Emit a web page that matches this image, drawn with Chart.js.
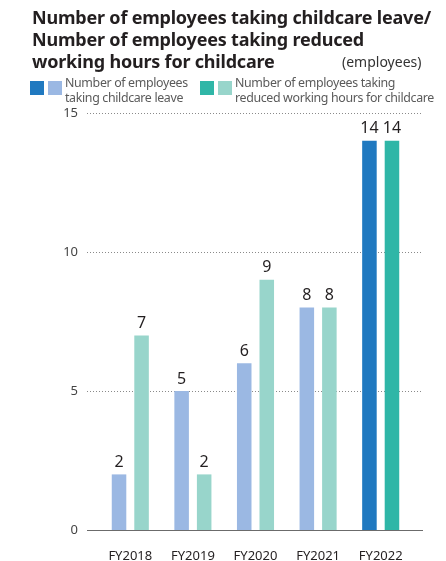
<!DOCTYPE html>
<html>
<head>
<meta charset="utf-8">
<script src="https://cdn.jsdelivr.net/npm/chart.js@4/dist/chart.umd.min.js"></script>
<style>
  body { margin: 0; background: #fff; font-family: "Noto Sans", sans-serif; }
  #wrap { position: relative; width: 446px; height: 561px; overflow: hidden; }
  #chart { position: absolute; left: 0; top: 0; }
  .title { position: absolute; left: 32px; top: 6px; font-weight: bold; font-size: 18px; line-height: 22px; color: #231f20; letter-spacing: -0.2px; }
  .unit { position: absolute; left: 342px; top: 52px; font-size: 14px; color: #333; }
  .legend { position: absolute; top: 76px; font-size: 12.4px; line-height: 14.5px; color: #5a5a5a; letter-spacing: -0.35px; }
  .legend .sq { position: absolute; top: 5px; width: 14px; height: 14px; }
  .legend .txt { position: absolute; top: 0; white-space: nowrap; }
</style>
</head>
<body>
<div id="wrap">
  <canvas id="chart" width="446" height="561"></canvas>
  <div class="title">Number of employees taking childcare leave/<br>Number of employees taking reduced<br>working hours for childcare</div>
  <div class="unit">(employees)</div>
  <div id="legend"></div>
</div>
<script>
'use strict';

var years = ['FY2018', 'FY2019', 'FY2020', 'FY2021', 'FY2022'];
var leaveCounts = [2, 5, 6, 8, 14];
var reducedHourCounts = [7, 2, 9, 8, 14];
var yTicks = [0, 5, 10, 15];

var leaveLabel = ['Number of employees', 'taking childcare leave'];
var reducedLabel = ['Number of employees taking', 'reduced working hours for childcare'];

// latest year is highlighted with the strong colour
var colors = {
    leave: { past: '#9bb8e3', latest: '#2079c0' },
    reduced: { past: '#98d5cb', latest: '#2fb6a7' }
};

function barColors(c) {
    return years.map(function(y, i) {
        return i === years.length - 1 ? c.latest : c.past;
    });
}

// dotted gridlines and solid baseline, a little wider than the bar area
var gridPlugin = {
    id: 'gridLines',
    beforeDatasetsDraw: function(chart) {
        var ctx = chart.ctx, area = chart.chartArea, y = chart.scales.y;
        var left = area.left - 12, right = area.right + 11;
        ctx.save();
        yTicks.forEach(function(t) {
            var py = Math.round(y.getPixelForValue(t)) + 0.5;
            ctx.beginPath();
            if (t === 0) {
                ctx.setLineDash([]);
                ctx.strokeStyle = '#6b6b6b';
                ctx.lineWidth = 1.2;
            } else {
                ctx.setLineDash([1, 2]);
                ctx.strokeStyle = '#8a8a8a';
                ctx.lineWidth = 1;
            }
            ctx.moveTo(left, py);
            ctx.lineTo(right, py);
            ctx.stroke();
        });
        ctx.restore();
    }
};

// value written above each bar
var valuePlugin = {
    id: 'barValues',
    afterDatasetsDraw: function(chart) {
        var ctx = chart.ctx;
        ctx.save();
        ctx.font = '16px "Noto Sans"';
        ctx.fillStyle = '#231f20';
        ctx.textAlign = 'center';
        ctx.textBaseline = 'bottom';
        chart.data.datasets.forEach(function(ds, di) {
            chart.getDatasetMeta(di).data.forEach(function(bar, i) {
                ctx.fillText(ds.data[i], bar.x, bar.y - 4);
            });
        });
        ctx.restore();
    }
};

var chart = new Chart(document.getElementById('chart'), {
    type: 'bar',
    data: {
        labels: years,
        datasets: [{
            label: leaveLabel.join(' '),
            data: leaveCounts,
            backgroundColor: barColors(colors.leave)
        }, {
            label: reducedLabel.join(' '),
            data: reducedHourCounts,
            backgroundColor: barColors(colors.reduced)
        }]
    },
    options: {
        responsive: false,
        animation: false,
        events: [],
        categoryPercentage: 0.72,
        barPercentage: 0.645,
        layout: { padding: { top: 113, right: 34, bottom: 0, left: 0 } },
        plugins: {
            legend: { display: false },
            tooltip: { enabled: false }
        },
        scales: {
            x: {
                grid: { display: false },
                border: { display: false },
                ticks: { color: '#231f20', font: { family: 'Noto Sans', size: 13 }, padding: 10 },
                afterFit: function(scale) { scale.height = 31; }
            },
            y: {
                min: 0,
                max: 15,
                grid: { display: false, drawTicks: false },
                border: { display: false },
                afterBuildTicks: function(scale) {
                    scale.ticks = yTicks.map(function(v) { return { value: v }; });
                },
                ticks: { color: '#444', font: { family: 'Noto Sans', size: 13 }, padding: 21 },
                afterFit: function(scale) { scale.width = 99; }
            }
        }
    },
    plugins: [gridPlugin, valuePlugin]
});

// legend with a strong and a pale swatch for each series
var legendHtml = '';
[[leaveLabel, colors.leave, 30], [reducedLabel, colors.reduced, 200]].forEach(function(item) {
    var x = item[2];
    legendHtml += '<div class="legend" style="left:' + x + 'px">' +
        '<span class="sq" style="left:0;background:' + item[1].latest + '"></span>' +
        '<span class="sq" style="left:18px;background:' + item[1].past + '"></span>' +
        '<span class="txt" style="left:35px">' + item[0].join('<br>') + '</span></div>';
});
document.getElementById('legend').innerHTML = legendHtml;
</script>
</body>
</html>
